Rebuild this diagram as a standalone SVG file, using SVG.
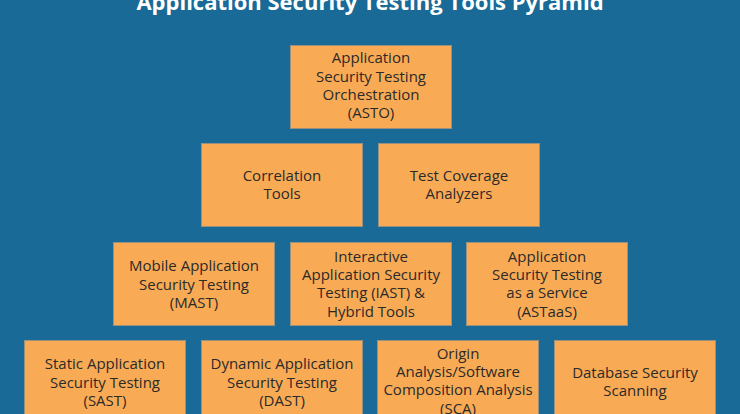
<svg xmlns="http://www.w3.org/2000/svg" width="740" height="414" viewBox="0 0 740 414">
<style>
.bg{fill:#196a96}
.box{fill:#f9aa55;stroke:#9a9080;stroke-width:1}
.t{font-family:"Open Sans","Liberation Sans",sans-serif;font-size:15px;fill:#2a2a2a;text-anchor:middle}
.title{font-family:"Open Sans","Liberation Sans",sans-serif;font-size:22px;font-weight:bold;fill:#ffffff;text-anchor:middle}
</style>
<rect class="bg" x="0" y="0" width="740" height="414"/>
<text class="title" x="370" y="10">Application Security Testing Tools Pyramid</text>
<g id="connectors"></g>
<g id="asto">
<rect class="box" x="290.5" y="45.5" width="161" height="83"/>
<text class="t" x="371" y="63.3">Application</text>
<text class="t" x="371" y="81.6">Security Testing</text>
<text class="t" x="371" y="99.9">Orchestration</text>
<text class="t" x="371" y="118.2">(ASTO)</text>
</g>
<g id="correlation">
<rect class="box" x="201.5" y="143.5" width="161" height="83"/>
<text class="t" x="282" y="180.6">Correlation</text>
<text class="t" x="282" y="198.9">Tools</text>
</g>
<g id="coverage">
<rect class="box" x="378.5" y="143.5" width="161" height="83"/>
<text class="t" x="459" y="180.6">Test Coverage</text>
<text class="t" x="459" y="198.9">Analyzers</text>
</g>
<g id="mast">
<rect class="box" x="113.5" y="242.5" width="161" height="83"/>
<text class="t" x="194" y="271.3">Mobile Application</text>
<text class="t" x="194" y="289.6">Security Testing</text>
<text class="t" x="194" y="307.9">(MAST)</text>
</g>
<g id="iast">
<rect class="box" x="290.5" y="242.5" width="161" height="83"/>
<text class="t" x="371" y="261.6">Interactive</text>
<text class="t" x="371" y="279.9">Application Security</text>
<text class="t" x="371" y="298.2">Testing (IAST) &amp;</text>
<text class="t" x="371" y="316.5">Hybrid Tools</text>
</g>
<g id="astaas">
<rect class="box" x="466.5" y="242.5" width="161" height="83"/>
<text class="t" x="547" y="261.6">Application</text>
<text class="t" x="547" y="279.9">Security Testing</text>
<text class="t" x="547" y="298.2">as a Service</text>
<text class="t" x="547" y="316.5">(ASTaaS)</text>
</g>
<g id="sast">
<rect class="box" x="24.5" y="340.5" width="161" height="83"/>
<text class="t" x="105" y="369.3">Static Application</text>
<text class="t" x="105" y="387.6">Security Testing</text>
<text class="t" x="105" y="405.9">(SAST)</text>
</g>
<g id="dast">
<rect class="box" x="201.5" y="340.5" width="161" height="83"/>
<text class="t" x="282" y="369.3">Dynamic Application</text>
<text class="t" x="282" y="387.6">Security Testing</text>
<text class="t" x="282" y="405.9">(DAST)</text>
</g>
<g id="sca">
<rect class="box" x="377.5" y="340.5" width="161" height="83"/>
<text class="t" x="458" y="358.6">Origin</text>
<text class="t" x="458" y="376.9">Analysis/Software</text>
<text class="t" x="458" y="395.2">Composition Analysis</text>
<text class="t" x="458" y="413.5">(SCA)</text>
</g>
<g id="dbscan">
<rect class="box" x="554.5" y="340.5" width="161" height="83"/>
<text class="t" x="635" y="378">Database Security</text>
<text class="t" x="635" y="396.3">Scanning</text>
</g>
</svg>
